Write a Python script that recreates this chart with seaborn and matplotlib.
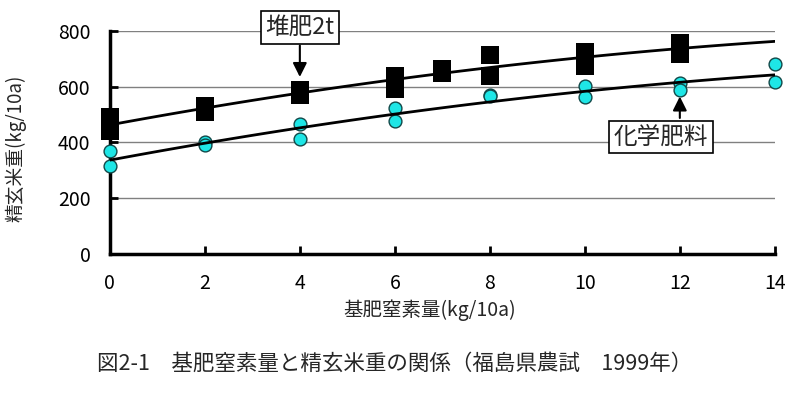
import matplotlib
matplotlib.use("Agg")
import matplotlib.pyplot as plt
import seaborn as sns
import pandas as pd

# Base-fertilizer N (kg/10a) vs brown rice yield (kg/10a)
x_compost = [0, 0, 2, 2, 4, 4, 6, 6, 7, 7, 8, 8, 10, 10, 12, 12]
y_compost = [490, 440, 530, 510, 590, 570, 638, 592, 663, 650, 713, 637, 725, 676, 758, 718]

x_chem = [0, 0, 2, 2, 4, 4, 6, 6, 8, 8, 10, 10, 12, 12, 14, 14]
y_chem = [368, 316, 400, 390, 468, 412, 522, 476, 570, 568, 602, 562, 612, 590, 680, 617]

x_ticks = [0, 2, 4, 6, 8, 10, 12, 14]
y_ticks = [0, 200, 400, 600, 800]

df = pd.concat([
    pd.DataFrame({"n": x_compost, "yield": y_compost, "plot": "堆肥2t"}),
    pd.DataFrame({"n": x_chem, "yield": y_chem, "plot": "化学肥料"}),
])

sns.set_theme(style="white")
plt.rcParams["font.family"] = ["Noto Sans CJK JP", "DejaVu Sans"]

fig = plt.figure(figsize=(7.96, 3.95), dpi=100)
ax = fig.add_axes([0.138, 0.357, 0.8354, 0.5645])

ax.set_xlim(0, 14)
ax.set_ylim(0, 800)

# grid lines behind everything
for v in y_ticks[1:]:
    ax.axhline(v, color="#808080", lw=1.0, zorder=0)

sns.scatterplot(data=df[df["plot"] == "堆肥2t"], x="n", y="yield", marker="s",
                color="black", s=150, linewidth=0, clip_on=False, zorder=3, ax=ax)
sns.scatterplot(data=df[df["plot"] == "化学肥料"], x="n", y="yield", marker="o",
                color="#1ee6e6", edgecolor="#124848", linewidth=1.0, s=85,
                clip_on=False, zorder=3, ax=ax)

# quadratic trend lines over the points
sns.regplot(data=df[df["plot"] == "堆肥2t"], x="n", y="yield", order=2, ci=None,
            scatter=False, truncate=False, color="black",
            line_kws={"lw": 2.0, "zorder": 4}, ax=ax)
sns.regplot(data=df[df["plot"] == "化学肥料"], x="n", y="yield", order=2, ci=None,
            scatter=False, truncate=False, color="black",
            line_kws={"lw": 2.0, "zorder": 4}, ax=ax)

ax.set_xlim(0, 14)
ax.set_ylim(0, 800)
ax.set_xticks(x_ticks)
ax.set_yticks(y_ticks)
ax.tick_params(axis="both", direction="in", length=6, width=2, colors="black",
               labelsize=14, pad=14, bottom=True, left=True)

sns.despine(ax=ax, top=True, right=True)
for side in ["left", "bottom"]:
    ax.spines[side].set_linewidth(2.5)
    ax.spines[side].set_color("black")

ax.set_xlabel("基肥窒素量(kg/10a)", fontsize=14)
ax.set_ylabel("精玄米重(kg/10a)", fontsize=13.5)
ax.xaxis.set_label_coords(0.481, -0.205)
ax.yaxis.set_label_coords(-0.125, 0.475)

# callout boxes with arrows
box = dict(boxstyle="square,pad=0.2", fc="white", ec="black", lw=1.2)
arrow = dict(arrowstyle="-|>,head_length=0.7,head_width=0.35", color="black",
             lw=1.5, shrinkA=0, shrinkB=0)

ax.text(4, 812, "堆肥2t", ha="center", va="center", fontsize=17, bbox=box,
        zorder=6, clip_on=False)
ax.annotate("", xy=(4, 635), xytext=(4, 748), arrowprops=arrow, zorder=6,
            annotation_clip=False)

ax.text(11.6, 420, "化学肥料", ha="center", va="center", fontsize=17, bbox=box,
        zorder=6)
ax.annotate("", xy=(12, 565), xytext=(12, 488), arrowprops=arrow, zorder=6)

fig.text(395 / 796, 1 - 364 / 395,
         "図2-1　基肥窒素量と精玄米重の関係（福島県農試　1999年）",
         ha="center", va="center", fontsize=15.5)

fig.savefig("out.png", dpi=100, facecolor="white")
